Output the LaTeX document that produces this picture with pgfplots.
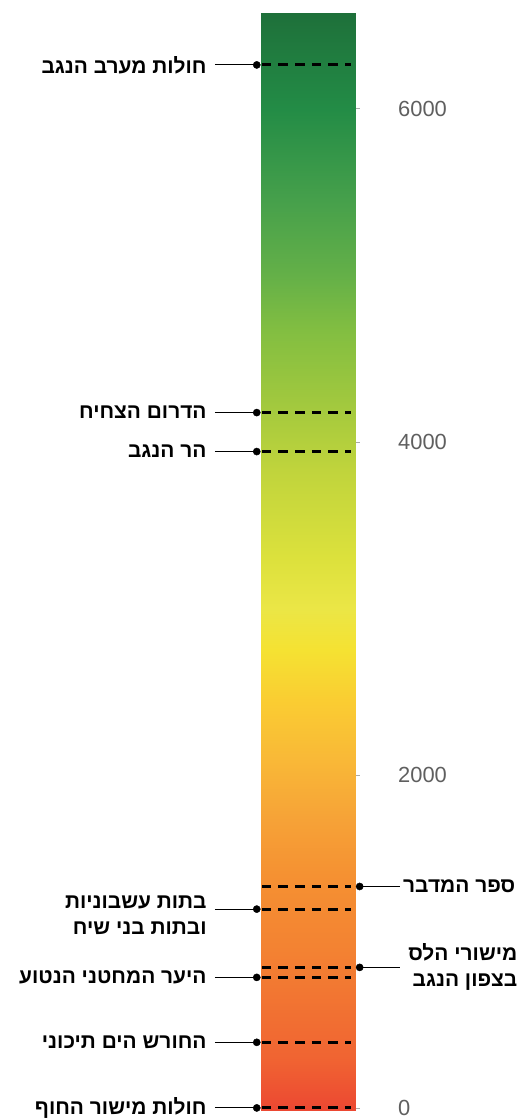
\documentclass[border=0pt]{standalone}
\usepackage{fontspec}
\usepackage{pgfplots}
\pgfplotsset{compat=1.18}
\setmainfont{Liberation Sans}
\newfontfamily\hebfont[Script=Hebrew]{Liberation Sans}
\TeXXeTstate=1
\definecolor{ticklab}{RGB}{95,95,95}
\definecolor{tickmk}{RGB}{170,170,170}
\newcommand{\lab}{\hebfont\bfseries\fontsize{21}{26}\selectfont}
\begin{document}
\begin{tikzpicture}
\begin{axis}[
  x=1bp, y=0.1666667bp,
  xmin=261, xmax=356, ymin=-60, ymax=6654,
  scale only axis, clip=false,
  axis x line=none,
  axis y line*=right,
  y axis line style={draw=none},
  ytick={0,2000,4000,6000},
  yticklabels={0,2000,4000,6000},
  tick align=outside,
  major tick length=4bp,
  y tick style={draw=tickmk, line width=0.8bp},
  yticklabel style={anchor=west, font=\fontsize{22}{22}\selectfont, text=ticklab, xshift=35bp},
  colormap={bar}{rgb255(0)=(236,72,50) rgb255(315)=(240,100,50) rgb255(965)=(243,130,50)
    rgb255(1415)=(245,145,50) rgb255(1745)=(246,162,55) rgb255(2115)=(249,185,55)
    rgb255(2465)=(250,205,50) rgb255(2765)=(245,226,50) rgb255(3015)=(235,230,70)
    rgb255(3315)=(220,225,60) rgb255(3845)=(192,212,60) rgb255(4265)=(160,200,62)
    rgb255(4685)=(130,190,65) rgb255(5015)=(100,176,72) rgb255(5465)=(70,160,75)
    rgb255(6015)=(35,140,70) rgb255(6590)=(30,112,58)},
]
% gradient bar
\addplot[patch, patch type=rectangle, shader=interp, point meta=y] table {
x y
261 -15
356 -15
356 300
261 300
261 300
356 300
356 950
261 950
261 950
356 950
356 1400
261 1400
261 1400
356 1400
356 1730
261 1730
261 1730
356 1730
356 2100
261 2100
261 2100
356 2100
356 2450
261 2450
261 2450
356 2450
356 2750
261 2750
261 2750
356 2750
356 3000
261 3000
261 3000
356 3000
356 3300
261 3300
261 3300
356 3300
356 3830
261 3830
261 3830
356 3830
356 4250
261 4250
261 4250
356 4250
356 4670
261 4670
261 4670
356 4670
356 5000
261 5000
261 5000
356 5000
356 5450
261 5450
261 5450
356 5450
356 6000
261 6000
261 6000
356 6000
356 6575
261 6575
};
% dashed level lines
\foreach \v in {6264,4176,3942,1330,1194,844,784,394,0} {
  \edef\temp{\noexpand\addplot[black, line width=2.9bp, dash pattern=on 9.5bp off 7.2bp] coordinates {(262,\v) (351,\v)};}
  \temp
}
% left leaders
\foreach \v in {6264,4176,3942,1194,784,394,0} {
  \edef\temp{\noexpand\addplot[black, line width=0.9bp] coordinates {(215,\v) (257,\v)};}
  \temp
}
\addplot[only marks, mark=*, mark size=3.6bp, black] coordinates {(257,6264) (257,4176) (257,3942) (257,1194) (257,784) (257,394) (257,0)};
% right leaders
\addplot[black, line width=0.9bp] coordinates {(360,1330) (400,1330)};
\addplot[black, line width=0.9bp] coordinates {(360,844) (400,844)};
\addplot[only marks, mark=*, mark size=3.6bp, black] coordinates {(360,1330) (360,844)};
% labels
\node[anchor=east, font=\lab, inner sep=0pt] at (axis cs:207,6264) {\beginR חולות מערב הנגב\endR};
\node[anchor=east, font=\lab, inner sep=0pt] at (axis cs:207,4176) {\beginR הדרום הצחיח\endR};
\node[anchor=east, font=\lab, inner sep=0pt] at (axis cs:207,3942) {\beginR הר הנגב\endR};
\node[anchor=east, font=\lab, inner sep=0pt, align=right] at (axis cs:207,1158) {\beginR בתות עשבוניות\endR\\\beginR ובתות בני שיח\endR};
\node[anchor=east, font=\lab, inner sep=0pt] at (axis cs:207,784) {\beginR היער המחטני הנטוע\endR};
\node[anchor=east, font=\lab, inner sep=0pt] at (axis cs:207,394) {\beginR החורש הים תיכוני\endR};
\node[anchor=east, font=\lab, inner sep=0pt] at (axis cs:207,0) {\beginR חולות מישור החוף\endR};
\node[anchor=east, font=\lab, inner sep=0pt] at (axis cs:516,1330) {\beginR ספר המדבר\endR};
\node[anchor=east, font=\lab, inner sep=0pt, align=right] at (axis cs:518,844) {\beginR מישורי הלס\endR\\\beginR בצפון הנגב\endR};
\coordinate (bl) at (axis cs:0,-60);
\coordinate (tr) at (axis cs:523,6654);
\end{axis}
\path (bl) rectangle (tr);
\end{tikzpicture}
\end{document}
